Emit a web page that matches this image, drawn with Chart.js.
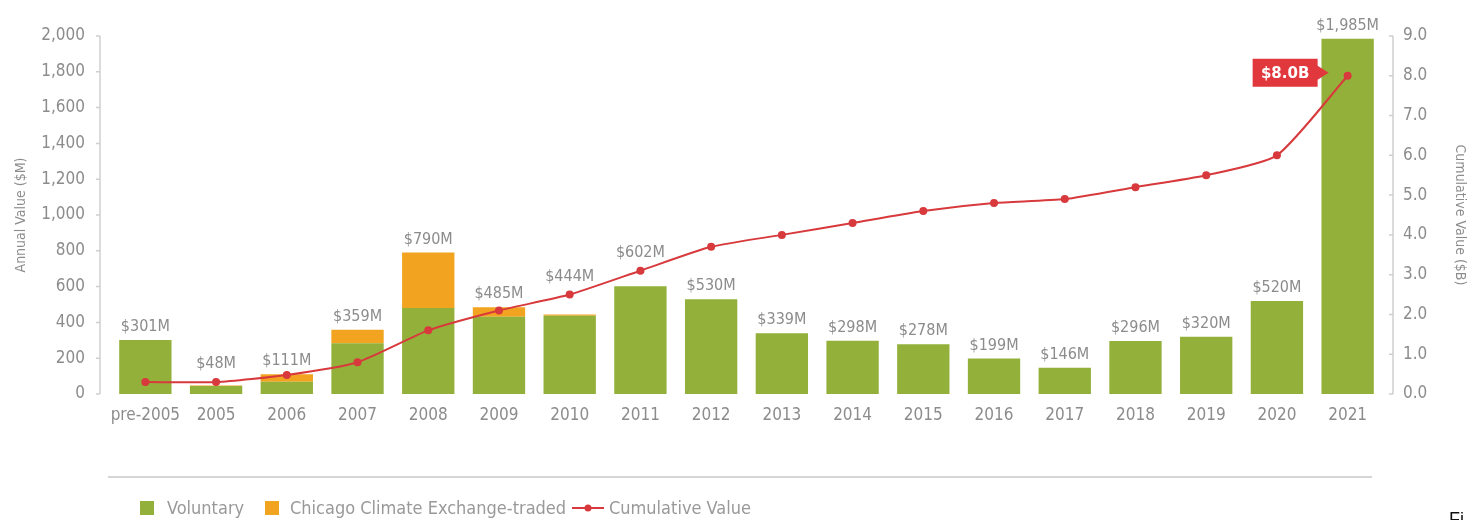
<!DOCTYPE html>
<html>
<head>
<meta charset="utf-8">
<script src="https://cdn.jsdelivr.net/npm/chart.js@4/dist/chart.umd.min.js"></script>
<style>
  html, body { margin: 0; padding: 0; background: #ffffff; }
  #wrap { position: relative; width: 1471px; height: 520px; overflow: hidden; }
  canvas { display: block; }
</style>
</head>
<body>
<div id="wrap"><canvas id="c" width="1471" height="520"></canvas></div>
<script>
// ---- data ----
const categories = ['pre-2005','2005','2006','2007','2008','2009','2010','2011','2012','2013','2014','2015','2016','2017','2018','2019','2020','2021'];
const voluntary  = [301, 44, 69, 283, 480, 431, 437, 602, 530, 339, 298, 278, 199, 146, 296, 320, 520, 1985];
const ccxTraded  = [0, 4, 42, 76, 310, 54, 7, 0, 0, 0, 0, 0, 0, 0, 0, 0, 0, 0];
const cumulative = [0.3, 0.3, 0.48, 0.8, 1.6, 2.1, 2.5, 3.1, 3.7, 4.0, 4.3, 4.6, 4.8, 4.9, 5.2, 5.5, 6.0, 8.0];
const leftTicks  = [0, 200, 400, 600, 800, 1000, 1200, 1400, 1600, 1800, 2000];
const rightTicks = [0, 1, 2, 3, 4, 5, 6, 7, 8, 9];

const GREEN = '#93b13a';
const ORANGE = '#f2a31f';
const RED = '#d8393c';
const GREY = '#8c8c8c';
const AXIS = '#cfcfcf';
const FONT = "'DejaVu Sans Condensed', 'Liberation Sans Narrow', 'Liberation Sans', sans-serif";

const totals = voluntary.map((v, i) => v + ccxTraded[i]);

const decorPlugin = {
  id: 'decor',
  afterDatasetsDraw(chart) {
    const ctx = chart.ctx;
    const area = chart.chartArea;
    const yL = chart.scales.y, yR = chart.scales.y1;
    ctx.save();
    // axis lines with tick marks
    ctx.strokeStyle = AXIS;
    ctx.lineWidth = 1.5;
    const lx = area.left - 10, rx = area.right + 10;
    ctx.beginPath();
    ctx.moveTo(lx, yL.getPixelForValue(2000)); ctx.lineTo(lx, yL.getPixelForValue(0));
    leftTicks.forEach(t => { const p = yL.getPixelForValue(t); ctx.moveTo(lx - 4, p); ctx.lineTo(lx, p); });
    ctx.moveTo(rx, yR.getPixelForValue(9)); ctx.lineTo(rx, yR.getPixelForValue(0));
    rightTicks.forEach(t => { const p = yR.getPixelForValue(t); ctx.moveTo(rx - 4, p); ctx.lineTo(rx, p); });
    ctx.stroke();

    // bar value labels (lifted above the cumulative line where they would collide)
    const topMeta = chart.getDatasetMeta(1);
    const lineMeta = chart.getDatasetMeta(2);
    ctx.fillStyle = GREY;
    ctx.font = "16px " + FONT;
    ctx.textAlign = 'center';
    ctx.textBaseline = 'bottom';
    totals.forEach((t, i) => {
      const el = topMeta.data[i];
      const pt = lineMeta.data[i];
      let bottom = el.y - 5;
      if (pt.y > bottom - 25 && pt.y < bottom + 3) bottom = pt.y - 10;
      ctx.fillText('$' + t.toLocaleString('en-US') + 'M', el.x, bottom);
    });

    // callout for final cumulative value
    const last = lineMeta.data[lineMeta.data.length - 1];
    const bx1 = last.x - 95, bx2 = last.x - 30, tip = last.x - 19;
    const by = last.y - 3, bh = 28;
    ctx.fillStyle = '#e0383d';
    ctx.beginPath();
    ctx.moveTo(bx1, by - bh / 2);
    ctx.lineTo(bx2, by - bh / 2);
    ctx.lineTo(bx2, by - 7);
    ctx.lineTo(tip, by);
    ctx.lineTo(bx2, by + 7);
    ctx.lineTo(bx2, by + bh / 2);
    ctx.lineTo(bx1, by + bh / 2);
    ctx.closePath();
    ctx.fill();
    ctx.fillStyle = '#ffffff';
    ctx.font = "bold 15px 'DejaVu Sans', sans-serif";
    ctx.textAlign = 'center';
    ctx.textBaseline = 'middle';
    ctx.fillText('$' + cumulative[cumulative.length - 1].toFixed(1) + 'B', (bx1 + bx2) / 2, by + 1);

    // separator
    ctx.strokeStyle = '#d6d6d6';
    ctx.lineWidth = 2;
    ctx.beginPath();
    ctx.moveTo(108, 477); ctx.lineTo(1372, 477);
    ctx.stroke();

    // legend
    const ly = 508;
    ctx.font = "18px " + FONT;
    ctx.textAlign = 'left';
    ctx.textBaseline = 'middle';
    ctx.fillStyle = GREEN; ctx.fillRect(140, ly - 7, 14, 14);
    ctx.fillStyle = '#999999'; ctx.fillText('Voluntary', 167, ly + 1);
    ctx.fillStyle = ORANGE; ctx.fillRect(265, ly - 7, 14, 14);
    ctx.fillStyle = '#999999'; ctx.fillText('Chicago Climate Exchange-traded', 290, ly + 1);
    ctx.strokeStyle = RED; ctx.lineWidth = 2;
    ctx.beginPath(); ctx.moveTo(572, ly); ctx.lineTo(604, ly); ctx.stroke();
    ctx.fillStyle = RED; ctx.beginPath(); ctx.arc(588, ly, 3.5, 0, Math.PI * 2); ctx.fill();
    ctx.fillStyle = '#999999'; ctx.fillText('Cumulative Value', 609, ly + 1);

    // clipped caption at the bottom-right
    ctx.fillStyle = '#111111';
    ctx.font = "18px 'Liberation Sans', sans-serif";
    ctx.textBaseline = 'top';
    ctx.fillText('Fi', 1449, 511);
    ctx.restore();
  }
};

new Chart(document.getElementById('c'), {
  data: {
    labels: categories,
    datasets: [
      { type: 'bar', label: 'Voluntary', data: voluntary, backgroundColor: GREEN, yAxisID: 'y', stack: 's', order: 2,
        categoryPercentage: 1, barPercentage: 0.74 },
      { type: 'bar', label: 'Chicago Climate Exchange-traded', data: ccxTraded, backgroundColor: ORANGE, yAxisID: 'y', stack: 's', order: 2,
        categoryPercentage: 1, barPercentage: 0.74 },
      { type: 'line', label: 'Cumulative Value', data: cumulative, yAxisID: 'y1', order: 1,
        borderColor: RED, backgroundColor: RED, borderWidth: 2, tension: 0.2,
        pointRadius: 4, pointBackgroundColor: RED, pointBorderWidth: 0 }
    ]
  },
  options: {
    responsive: false,
    animation: false,
    layout: { padding: { top: 36, left: 0, right: 0, bottom: 0 } },
    plugins: { legend: { display: false }, tooltip: { enabled: false } },
    scales: {
      x: {
        stacked: true,
        grid: { display: false },
        border: { display: false },
        ticks: { color: GREY, font: { family: FONT, size: 17 }, padding: 3, maxRotation: 0, autoSkip: false },
        afterFit(s) { s.height = 126; }
      },
      y: {
        position: 'left',
        stacked: true,
        min: 0, max: 2000,
        afterBuildTicks(s) { s.ticks = leftTicks.map(v => ({ value: v })); },
        grid: { display: false },
        border: { display: false },
        ticks: { color: GREY, font: { family: FONT, size: 17 }, padding: 17,
          callback: v => v.toLocaleString('en-US') },
        title: { display: true, text: 'Annual Value ($M)', color: GREY, font: { family: FONT, size: 14 }, padding: { top: 13, bottom: 0 } },
        afterFit(s) { s.width = 110; }
      },
      y1: {
        position: 'right',
        min: 0, max: 9,
        afterBuildTicks(s) { s.ticks = rightTicks.map(v => ({ value: v })); },
        grid: { display: false },
        border: { display: false },
        ticks: { color: GREY, font: { family: FONT, size: 17 }, padding: 12,
          callback: v => Number(v).toFixed(1) },
        title: { display: true, text: 'Cumulative Value ($B)', color: GREY, font: { family: FONT, size: 14 }, padding: { top: 3, bottom: 0 } },
        afterFit(s) { s.width = 88; }
      }
    }
  },
  plugins: [decorPlugin]
});
</script>
</body>
</html>
